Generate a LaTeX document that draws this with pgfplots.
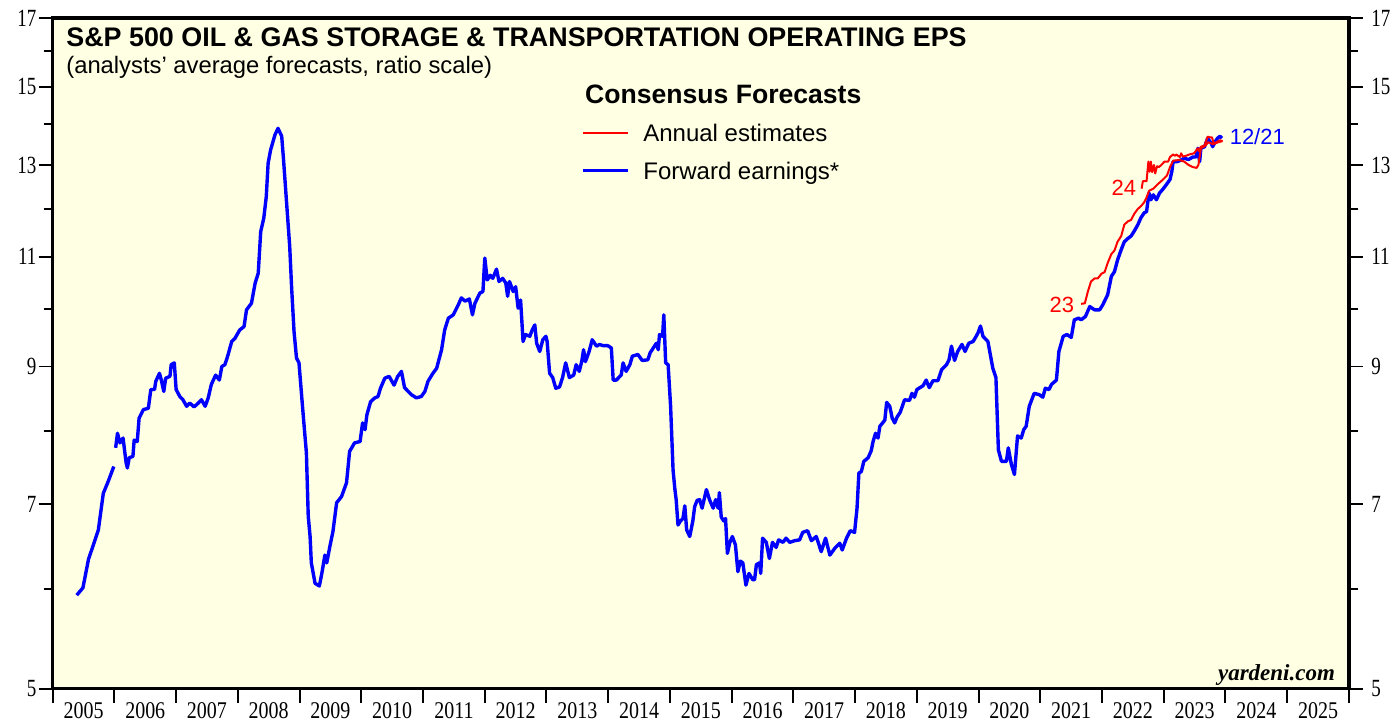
\documentclass[border=0pt]{standalone}
\usepackage{pgfplots}
\pgfplotsset{compat=1.18}
\usepackage{graphicx}
\usepackage{fontspec}
\setmainfont{Liberation Sans}
\newfontfamily\serif{Liberation Serif}
\definecolor{bgyellow}{RGB}{255,255,228}
\definecolor{fwdblue}{RGB}{0,0,255}
\definecolor{estred}{RGB}{255,0,0}

\newcommand\ylab{\scalebox{1}[1.3]{\fontsize{9.5pt}{10pt}\serif\pgfmathparse{exp(\tick)}\pgfmathprintnumber[fixed,precision=0]{\pgfmathresult}}}

\begin{document}
\begin{tikzpicture}
\path (-26.35pt,-17pt) rectangle (670pt,344.5pt);

\begin{axis}[
  at={(0pt,0pt)}, anchor=south west,
  scale only axis, width=648.5pt, height=335.5pt,
  ymode=log,
  xmin=2005, xmax=2026, ymin=5, ymax=17,
  /pgf/number format/assume math mode=true,
  tick align=outside,
  major tick length=7pt, minor tick length=4.5pt,
  tick style={line width=1pt, black},
  ytick={5,7,9,11,13,15,17},
  minor ytick={6,8,10,12,14,16},
  yticklabel={\ylab},
  yticklabel style={inner sep=1pt},
  axis background/.style={fill=bgyellow},
  axis line style={line width=1.6pt},
  xtick={2005,...,2026},
  x tick label as interval,
  xtick pos=bottom,
  ytick pos=both,
  xticklabel={\scalebox{1}[1.2]{\fontsize{10pt}{11pt}\serif\pgfmathprintnumber[1000 sep={}]{\tick}}},
  xticklabel style={inner sep=0pt},
  clip=false,
]

% Forward earnings, erstes Stück
\addplot[fwdblue, line width=1.7pt, line join=round] coordinates {
(2005.39,5.93) (2005.49,6.01) (2005.58,6.33) (2005.74,6.68) (2005.82,7.14) (2005.90,7.30) (2005.99,7.50)};

% Forward earnings
\addplot[fwdblue, line width=1.7pt, line join=round] coordinates {
(2006.02,7.76) (2006.05,7.97) (2006.09,7.83) (2006.14,7.90) (2006.19,7.55) (2006.21,7.48) (2006.24,7.62) (2006.30,7.64)
(2006.32,7.87) (2006.37,7.85) (2006.40,8.19) (2006.47,8.32) (2006.55,8.34) (2006.59,8.63) (2006.65,8.63) (2006.67,8.76)
(2006.73,8.89) (2006.76,8.78) (2006.80,8.60) (2006.83,8.81) (2006.90,8.84) (2006.92,9.03) (2006.97,9.06) (2007.00,8.63)
(2007.06,8.52) (2007.11,8.47) (2007.17,8.37) (2007.22,8.42) (2007.29,8.36) (2007.36,8.42) (2007.41,8.47) (2007.47,8.37)
(2007.52,8.50) (2007.57,8.71) (2007.64,8.86) (2007.70,8.78) (2007.74,9.00) (2007.79,9.03) (2007.84,9.19) (2007.90,9.42)
(2007.95,9.47) (2008.03,9.62) (2008.10,9.68) (2008.14,9.98) (2008.22,10.10) (2008.28,10.48) (2008.33,10.67) (2008.37,11.51)
(2008.42,11.80) (2008.46,12.27) (2008.49,13.04) (2008.53,13.36) (2008.60,13.73) (2008.65,13.90) (2008.71,13.70) (2008.74,13.12)
(2008.79,12.12) (2008.84,11.20) (2008.87,10.41) (2008.91,9.59) (2008.95,9.14) (2008.99,9.06) (2009.06,8.22) (2009.11,7.69)
(2009.14,6.85) (2009.17,6.60) (2009.19,6.29) (2009.25,6.06) (2009.32,6.03) (2009.36,6.17) (2009.41,6.38) (2009.44,6.29)
(2009.49,6.48) (2009.54,6.66) (2009.60,7.02) (2009.68,7.10) (2009.76,7.28) (2009.81,7.71) (2009.89,7.83) (2009.98,7.85)
(2010.02,8.12) (2010.06,8.02) (2010.09,8.24) (2010.15,8.44) (2010.22,8.50) (2010.27,8.52) (2010.31,8.65) (2010.38,8.81)
(2010.45,8.84) (2010.53,8.70) (2010.59,8.84) (2010.65,8.92) (2010.70,8.66) (2010.76,8.60) (2010.81,8.55) (2010.89,8.50)
(2010.97,8.52) (2011.03,8.60) (2011.08,8.76) (2011.16,8.89) (2011.22,8.97) (2011.30,9.28) (2011.35,9.62) (2011.41,9.83)
(2011.49,9.89) (2011.57,10.07) (2011.62,10.20) (2011.68,10.14) (2011.75,10.18) (2011.80,9.89) (2011.84,10.10) (2011.92,10.29)
(2011.97,10.32) (2012.00,10.97) (2012.04,10.54) (2012.09,10.63) (2012.13,10.57) (2012.19,10.75) (2012.23,10.51) (2012.29,10.57)
(2012.34,10.48) (2012.37,10.23) (2012.40,10.51) (2012.46,10.32) (2012.50,10.41) (2012.54,10.01) (2012.58,10.16) (2012.62,9.42)
(2012.66,9.54) (2012.73,9.51) (2012.76,9.60) (2012.81,9.71) (2012.84,9.39) (2012.89,9.25) (2012.94,9.45) (2012.99,9.51)
(2013.01,9.42) (2013.05,8.89) (2013.10,8.82) (2013.15,8.65) (2013.21,8.67) (2013.26,8.82) (2013.31,9.06) (2013.37,8.82)
(2013.44,8.86) (2013.48,9.03) (2013.53,8.92) (2013.57,9.08) (2013.60,9.28) (2013.63,9.08) (2013.69,9.25) (2013.74,9.45)
(2013.81,9.34) (2013.86,9.37) (2013.91,9.35) (2013.99,9.35) (2014.05,9.31) (2014.08,8.78) (2014.13,8.78) (2014.21,8.86)
(2014.24,9.06) (2014.29,8.92) (2014.35,9.03) (2014.39,9.17) (2014.48,9.20) (2014.55,9.10) (2014.64,9.11) (2014.68,9.23)
(2014.73,9.31) (2014.78,9.39) (2014.81,9.28) (2014.83,9.54) (2014.88,9.51) (2014.90,9.89) (2014.93,9.06) (2014.97,9.03)
(2015.01,8.37) (2015.05,7.45) (2015.08,7.19) (2015.10,7.06) (2015.13,6.74) (2015.17,6.79) (2015.21,6.82) (2015.24,6.98)
(2015.27,6.68) (2015.32,6.60) (2015.37,6.79) (2015.40,6.97) (2015.44,7.05) (2015.48,7.06) (2015.52,6.95) (2015.59,7.19)
(2015.64,7.06) (2015.70,6.95) (2015.74,7.06) (2015.78,6.95) (2015.80,7.15) (2015.83,6.84) (2015.87,6.79) (2015.90,6.82)
(2015.93,6.40) (2015.97,6.53) (2016.01,6.60) (2016.06,6.50) (2016.10,6.19) (2016.14,6.31) (2016.18,6.29) (2016.23,6.04)
(2016.28,6.17) (2016.34,6.10) (2016.37,6.10) (2016.40,6.27) (2016.45,6.29) (2016.47,6.17) (2016.50,6.58) (2016.56,6.53)
(2016.61,6.34) (2016.66,6.53) (2016.72,6.47) (2016.76,6.56) (2016.83,6.53) (2016.88,6.58) (2016.94,6.53) (2017.02,6.55)
(2017.10,6.56) (2017.15,6.65) (2017.23,6.67) (2017.29,6.55) (2017.37,6.60) (2017.45,6.42) (2017.52,6.58) (2017.59,6.38)
(2017.67,6.46) (2017.75,6.52) (2017.79,6.44) (2017.86,6.58) (2017.92,6.67) (2017.99,6.65) (2018.03,6.95) (2018.06,7.41)
(2018.10,7.43) (2018.14,7.57) (2018.21,7.62) (2018.26,7.72) (2018.29,7.85) (2018.33,7.97) (2018.37,7.90) (2018.40,8.07)
(2018.48,8.16) (2018.51,8.43) (2018.56,8.37) (2018.60,8.19) (2018.64,8.12) (2018.68,8.21) (2018.73,8.28) (2018.80,8.47)
(2018.88,8.46) (2018.92,8.57) (2018.96,8.51) (2019.00,8.63) (2019.10,8.69) (2019.15,8.78) (2019.20,8.66) (2019.26,8.77)
(2019.34,8.77) (2019.40,8.95) (2019.48,9.03) (2019.52,9.11) (2019.56,9.34) (2019.61,9.10) (2019.66,9.25) (2019.73,9.37)
(2019.78,9.25) (2019.84,9.39) (2019.91,9.42) (2019.96,9.51) (2019.99,9.57) (2020.03,9.69) (2020.07,9.51) (2020.15,9.42)
(2020.23,8.97) (2020.28,8.82) (2020.32,7.73) (2020.37,7.57) (2020.45,7.57) (2020.48,7.76) (2020.53,7.53) (2020.58,7.39)
(2020.63,7.93) (2020.69,7.90) (2020.73,8.02) (2020.77,8.07) (2020.82,8.37) (2020.90,8.57) (2020.98,8.55) (2021.04,8.51)
(2021.08,8.65) (2021.14,8.63) (2021.18,8.71) (2021.26,8.78) (2021.30,9.25) (2021.37,9.51) (2021.43,9.54) (2021.50,9.49)
(2021.55,9.80) (2021.62,9.83) (2021.66,9.80) (2021.73,9.86) (2021.80,10.04) (2021.88,9.98) (2021.96,9.98) (2022.01,10.07)
(2022.09,10.26) (2022.15,10.61) (2022.20,10.70) (2022.25,10.93) (2022.31,11.14) (2022.36,11.30) (2022.41,11.36) (2022.47,11.42)
(2022.52,11.52) (2022.58,11.66) (2022.63,11.81) (2022.68,11.91) (2022.72,11.94) (2022.76,12.35) (2022.79,12.20) (2022.83,12.31)
(2022.88,12.20) (2022.93,12.35) (2022.98,12.43) (2023.04,12.54) (2023.10,12.66) (2023.13,12.85) (2023.15,13.08) (2023.22,13.08)
(2023.28,13.12) (2023.33,13.16) (2023.40,13.13) (2023.47,13.19) (2023.52,13.19) (2023.55,13.40) (2023.58,13.08) (2023.60,13.40)
(2023.66,13.44) (2023.71,13.65) (2023.77,13.52) (2023.79,13.44) (2023.83,13.56) (2023.87,13.65) (2023.91,13.70) (2023.94,13.65)};

% Annual estimates 2023
\addplot[estred, line width=1pt, line join=round] coordinates {
(2021.66,10.09) (2021.72,10.10) (2021.77,10.32) (2021.82,10.51) (2021.88,10.57) (2021.93,10.57) (2021.99,10.66) (2022.04,10.69)
(2022.09,10.87) (2022.15,11.05) (2022.20,11.12) (2022.25,11.30) (2022.31,11.42) (2022.36,11.66) (2022.42,11.73) (2022.47,11.76)
(2022.52,11.89) (2022.58,12.00) (2022.63,12.06) (2022.68,12.14) (2022.72,12.25) (2022.76,12.40) (2022.83,12.45) (2022.90,12.55)
(2022.98,12.65) (2023.05,12.75) (2023.10,12.95) (2023.15,13.10) (2023.25,13.12) (2023.33,13.08) (2023.40,13.00) (2023.47,12.95)
(2023.53,12.93) (2023.56,13.00) (2023.60,13.40) (2023.66,13.45) (2023.72,13.55) (2023.80,13.50) (2023.88,13.55) (2023.95,13.58)};

% Annual estimates 2024
\addplot[estred, line width=1pt, line join=round] coordinates {
(2022.64,12.45) (2022.66,12.62) (2022.72,12.62) (2022.75,13.08) (2022.77,12.84) (2022.79,13.08) (2022.81,12.83) (2022.84,13.00)
(2022.86,12.80) (2022.89,12.97) (2022.92,12.95) (2022.96,13.00) (2023.01,13.08) (2023.07,13.08) (2023.10,13.19) (2023.15,13.25)
(2023.18,13.22) (2023.20,13.25) (2023.26,13.19) (2023.28,13.28) (2023.31,13.20) (2023.36,13.22) (2023.41,13.25) (2023.49,13.28)
(2023.55,13.40) (2023.57,13.33) (2023.60,13.44) (2023.66,13.47) (2023.68,13.56) (2023.71,13.69) (2023.75,13.67) (2023.78,13.67)
(2023.81,13.51) (2023.86,13.56) (2023.91,13.60) (2023.95,13.58)};

\end{axis}

% rechte Achsenbeschriftung
\begin{axis}[
  at={(0pt,0pt)}, anchor=south west,
  scale only axis, width=648.5pt, height=335.5pt,
  ymode=log,
  xmin=2005, xmax=2026, ymin=5, ymax=17,
  /pgf/number format/assume math mode=true,
  tick align=outside,
  major tick length=7pt,
  ytick={5,7,9,11,13,15,17},
  yticklabel={\ylab},
  yticklabel style={inner sep=0pt, xshift=4pt},
  yticklabel pos=right,
  xtick=\empty,
  axis line style={draw=none},
  tick style={draw=none},
]
\end{axis}

\node[anchor=base west, font=\fontsize{13.45pt}{14pt}\selectfont\bfseries, inner sep=0pt] at (6.65pt,321.15pt)
  {S\&P 500 OIL \& GAS STORAGE \& TRANSPORTATION OPERATING EPS};
\node[anchor=base west, font=\fontsize{11.9pt}{13pt}\selectfont, inner sep=0pt] at (6.65pt,307.5pt)
  {(analysts’ average forecasts, ratio scale)};

\node[anchor=base west, font=\fontsize{13.3pt}{14pt}\selectfont\bfseries, inner sep=0pt] at (266.15pt,292.85pt) {Consensus Forecasts};
\draw[estred, line width=1pt] (265.15pt,277.85pt) -- (287.65pt,277.85pt);
\node[anchor=base west, font=\fontsize{12pt}{13pt}\selectfont, inner sep=0pt] at (295.3pt,273.65pt) {Annual estimates};
\draw[fwdblue, line width=1.6pt] (265.15pt,259.15pt) -- (287.65pt,259.15pt);
\node[anchor=base west, font=\fontsize{12pt}{13pt}\selectfont, inner sep=0pt] at (295.3pt,254.5pt) {Forward earnings*};

\node[anchor=base east, text=estred, font=\fontsize{11pt}{12pt}\selectfont, inner sep=0pt] at (511.15pt,188pt) {23};
\node[anchor=base east, text=estred, font=\fontsize{11pt}{12pt}\selectfont, inner sep=0pt] at (542.15pt,246.5pt) {24};
\node[anchor=base west, text=fwdblue, font=\fontsize{11pt}{12pt}\selectfont, inner sep=0pt] at (588.65pt,272pt) {12/21};

\node[anchor=base east, font=\fontsize{11.5pt}{12pt}\selectfont\serif\bfseries\itshape, inner sep=0pt] at (641.65pt,4pt) {yardeni.com};
\end{tikzpicture}
\end{document}
